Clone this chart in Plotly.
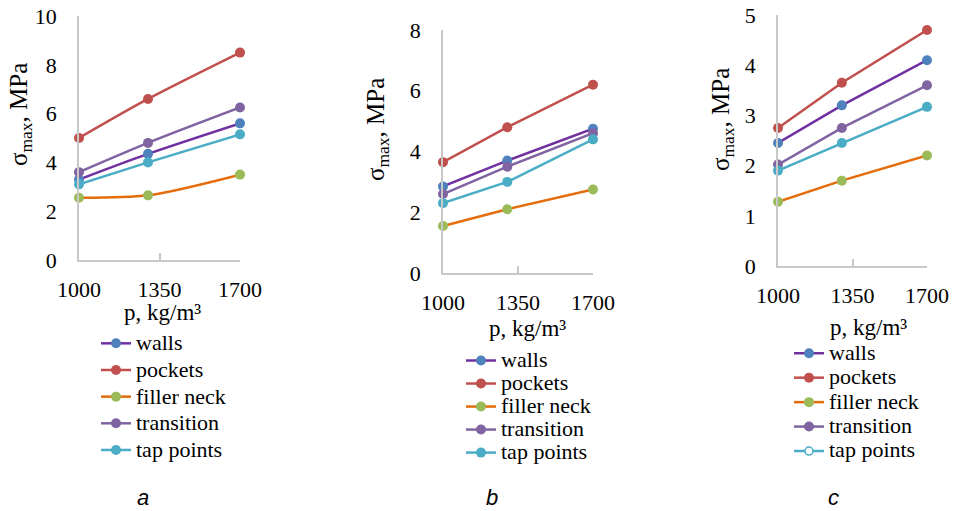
import plotly.graph_objects as go

# ---------------- data ----------------
density = [1000, 1300, 1700]          # p, kg/m3 (data positions)
x_tick_vals = [1000, 1350, 1700]      # x tick labels
series_names = ["walls", "pockets", "filler neck", "transition", "tap points"]

# panel a
a_walls = [3.3, 4.35, 5.6]
a_pockets = [5.0, 6.6, 8.5]
a_filler = [2.55, 2.65, 3.5]
a_transition = [3.6, 4.8, 6.25]
a_tap = [3.1, 4.0, 5.15]

# panel b
b_walls = [2.85, 3.7, 4.75]
b_pockets = [3.65, 4.8, 6.2]
b_filler = [1.55, 2.1, 2.75]
b_transition = [2.6, 3.5, 4.6]
b_tap = [2.3, 3.0, 4.4]

# panel c
c_walls = [2.45, 3.2, 4.1]
c_pockets = [2.75, 3.65, 4.7]
c_filler = [1.28, 1.7, 2.2]
c_transition = [2.02, 2.75, 3.6]
c_tap = [1.9, 2.45, 3.17]

panel_labels = ["a", "b", "c"]
y_ranges = [[0, 10], [0, 8], [0, 5]]
y_dticks = [2, 2, 1]

# ---------------- styles ----------------
line_colors = ["#7030A0", "#C0504D", "#E46C0A", "#8064A2", "#4BACC6"]
marker_colors = ["#4F81BD", "#C0504D", "#9BBB59", "#8064A2", "#4BACC6"]

W, H = 953, 511
SERIF = "Liberation Serif"
SANS = "Liberation Sans"
AX_COLOR = "#C8C8C8"

# pixel layout of each plot area: (left, right, top, bottom)
areas = [(79, 240, 16, 260), (443, 593, 30, 273), (778, 927, 15, 266)]
panels = [
    [a_walls, a_pockets, a_filler, a_transition, a_tap],
    [b_walls, b_pockets, b_filler, b_transition, b_tap],
    [c_walls, c_pockets, c_filler, c_transition, c_tap],
]
legend_pos = [(96, 325), (461, 344), (789, 336)]
legend_fs = [18.2, 15.4, 16.5]          # controls row spacing
ytitle_pos = [(20, 115), (377, 130), (722, 120)]
xtitle_pos = [(162, 312), (527, 328), (868, 327)]
label_pos = [(143, 497), (492, 497), (833, 497)]
smooth = [True, False, False]


def legend_text(s):
    return f'<span style="font-size:22px">{s}</span>'


fig = go.Figure()

for p, data in enumerate(panels):
    sfx = "" if p == 0 else str(p + 1)
    leg = "legend" if p == 0 else f"legend{p + 1}"
    for i, (name, vals) in enumerate(zip(series_names, data)):
        fig.add_trace(go.Scatter(
            x=density, y=vals, name=legend_text(name),
            mode="lines+markers",
            line=dict(color=line_colors[i], width=2.5,
                      shape="spline" if smooth[p] else "linear", smoothing=0.8),
            marker=dict(color=marker_colors[i], size=10, line=dict(width=0)),
            xaxis="x" + sfx, yaxis="y" + sfx,
            legend=leg, cliponaxis=False,
            showlegend=not (p == 2 and i == 4),
        ))
    if p == 2:
        # legend entry with hollow marker for tap points (panel c)
        fig.add_trace(go.Scatter(
            x=[None], y=[None], name=legend_text(series_names[4]), mode="lines+markers",
            line=dict(color=line_colors[4], width=2.5),
            marker=dict(color="white", size=8, line=dict(color=line_colors[4], width=1.5)),
            xaxis="x3", yaxis="y3", legend="legend3",
        ))
    # empty trace so that the overlay axis (top-end tick) is rendered
    fig.add_trace(go.Scatter(
        x=[None], y=[None], mode="markers", showlegend=False, hoverinfo="skip",
        xaxis="x" + sfx, yaxis=f"y{p + 4}",
    ))

layout = dict(
    template="none",
    width=W, height=H,
    margin=dict(l=0, r=0, t=0, b=0, pad=0, autoexpand=False),
    paper_bgcolor="white", plot_bgcolor="white",
    showlegend=True,
    font=dict(family=SERIF, size=22, color="#000000"),
)

annotations = []
for p in range(3):
    sfx = "" if p == 0 else str(p + 1)
    l, r, t, b = areas[p]
    layout["xaxis" + sfx] = dict(
        domain=[l / W, r / W], range=[1000, 1700], automargin=False,
        anchor="y" + sfx, showline=True, linecolor=AX_COLOR, linewidth=1.5,
        showgrid=False, zeroline=False, tickmode="array", tickvals=x_tick_vals,
        ticktext=[str(v) for v in x_tick_vals],
        ticks="inside", ticklen=7, tickcolor=AX_COLOR, tickwidth=1.5,
        ticklabelstandoff=9,
        tickfont=dict(family=SERIF, size=22, color="black"),
    )
    layout["yaxis" + sfx] = dict(
        domain=[1 - b / H, 1 - t / H], range=y_ranges[p], automargin=False,
        anchor="x" + sfx, showline=True, linecolor=AX_COLOR, linewidth=1.5,
        showgrid=False, zeroline=False, dtick=y_dticks[p], tick0=0,
        ticks="", ticklabelstandoff=16,
        tickfont=dict(family=SERIF, size=22, color="black"),
    )
    # overlay axis carrying only the short top-end tick of the value axis
    layout[f"yaxis{p + 4}"] = dict(
        overlaying="y" + sfx, anchor="x" + sfx, side="left",
        range=y_ranges[p], automargin=False, showline=False, showgrid=False,
        zeroline=False, tickmode="array", tickvals=[y_ranges[p][1]],
        showticklabels=False, ticks="inside", ticklen=8,
        tickcolor=AX_COLOR, tickwidth=1.5,
    )
    lx, ly = legend_pos[p]
    layout["legend" if p == 0 else f"legend{p + 1}"] = dict(
        x=lx / W, y=1 - ly / H, xanchor="left", yanchor="top",
        bgcolor="rgba(0,0,0,0)", borderwidth=0,
        font=dict(family=SERIF, size=legend_fs[p], color="black"),
        tracegroupgap=0, itemwidth=30,
    )
    yx, yy = ytitle_pos[p]
    annotations.append(dict(
        text="σ<sub>max</sub>, MPa", x=yx / W, y=1 - yy / H,
        xref="paper", yref="paper", showarrow=False, textangle=-90,
        xanchor="center", yanchor="middle",
        font=dict(family=SERIF, size=25, color="black"),
    ))
    xx, xy = xtitle_pos[p]
    annotations.append(dict(
        text="p, kg/m³", x=xx / W, y=1 - xy / H,
        xref="paper", yref="paper", showarrow=False,
        xanchor="center", yanchor="middle",
        font=dict(family=SERIF, size=23, color="black"),
    ))
    px_, py_ = label_pos[p]
    annotations.append(dict(
        text="<i>" + panel_labels[p] + "</i>", x=px_ / W, y=1 - py_ / H,
        xref="paper", yref="paper", showarrow=False,
        xanchor="center", yanchor="middle",
        font=dict(family=SANS, size=22, color="black"),
    ))

layout["annotations"] = annotations
fig.update_layout(**layout)
fig.write_html("out.html")
